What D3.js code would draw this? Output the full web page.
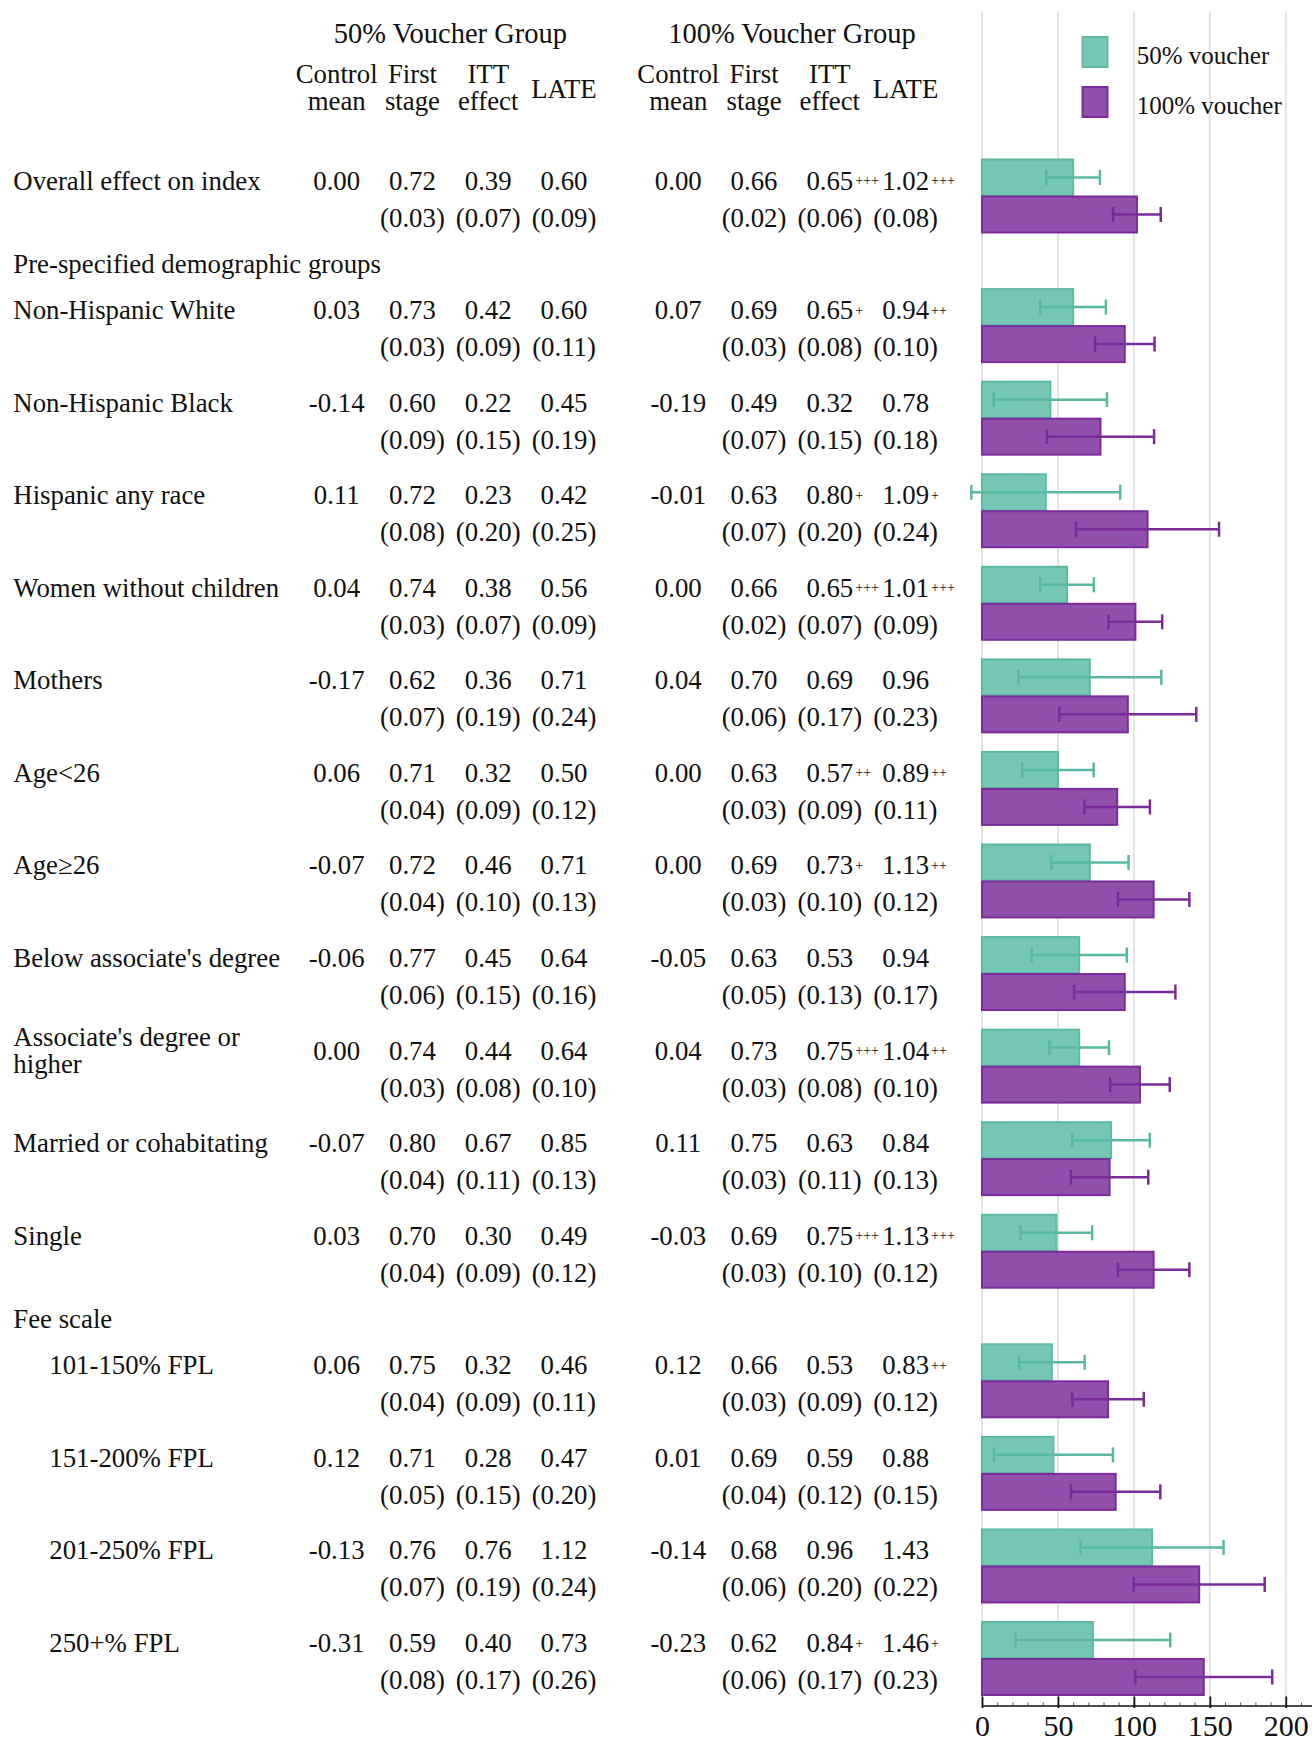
<!DOCTYPE html>
<html>
<head>
<meta charset="utf-8">
<script src="https://cdn.jsdelivr.net/npm/d3@7"></script>
<style>
  html, body { margin: 0; padding: 0; background: #fff; }
  svg { display: block; }
  text { font-family: "Liberation Serif", "Times New Roman", Times, serif; fill: #111; }
</style>
</head>
<body>
<svg id="chart" width="1312" height="1748"></svg>
<script>
// ---- Row labels and sections ----
const rowLabels = [
  "Overall effect on index",
  "Non-Hispanic White", "Non-Hispanic Black", "Hispanic any race",
  "Women without children", "Mothers", "Age<26", "Age\u226526",
  "Below associate's degree", "Associate's degree or higher",
  "Married or cohabitating", "Single",
  "101-150% FPL", "151-200% FPL", "201-250% FPL", "250+% FPL"
];
// section headings placed before the given row index
const sectionTitles = ["Pre-specified demographic groups", "Fee scale"];
const sectionStarts = [1, 12];
const indentedRows = [12, 13, 14, 15];

// ---- 50% voucher group ----
const controlMean50 = [0.00, 0.03, -0.14, 0.11, 0.04, -0.17, 0.06, -0.07, -0.06, 0.00, -0.07, 0.03, 0.06, 0.12, -0.13, -0.31];
const firstStage50  = [0.72, 0.73, 0.60, 0.72, 0.74, 0.62, 0.71, 0.72, 0.77, 0.74, 0.80, 0.70, 0.75, 0.71, 0.76, 0.59];
const firstStageSE50 = [0.03, 0.03, 0.09, 0.08, 0.03, 0.07, 0.04, 0.04, 0.06, 0.03, 0.04, 0.04, 0.04, 0.05, 0.07, 0.08];
const itt50   = [0.39, 0.42, 0.22, 0.23, 0.38, 0.36, 0.32, 0.46, 0.45, 0.44, 0.67, 0.30, 0.32, 0.28, 0.76, 0.40];
const ittSE50 = [0.07, 0.09, 0.15, 0.20, 0.07, 0.19, 0.09, 0.10, 0.15, 0.08, 0.11, 0.09, 0.09, 0.15, 0.19, 0.17];
const late50   = [0.60, 0.60, 0.45, 0.42, 0.56, 0.71, 0.50, 0.71, 0.64, 0.64, 0.85, 0.49, 0.46, 0.47, 1.12, 0.73];
const lateSE50 = [0.09, 0.11, 0.19, 0.25, 0.09, 0.24, 0.12, 0.13, 0.16, 0.10, 0.13, 0.12, 0.11, 0.20, 0.24, 0.26];
const ittSig50  = ["", "", "", "", "", "", "", "", "", "", "", "", "", "", "", ""];
const lateSig50 = ["", "", "", "", "", "", "", "", "", "", "", "", "", "", "", ""];

// ---- 100% voucher group ----
const controlMean100 = [0.00, 0.07, -0.19, -0.01, 0.00, 0.04, 0.00, 0.00, -0.05, 0.04, 0.11, -0.03, 0.12, 0.01, -0.14, -0.23];
const firstStage100  = [0.66, 0.69, 0.49, 0.63, 0.66, 0.70, 0.63, 0.69, 0.63, 0.73, 0.75, 0.69, 0.66, 0.69, 0.68, 0.62];
const firstStageSE100 = [0.02, 0.03, 0.07, 0.07, 0.02, 0.06, 0.03, 0.03, 0.05, 0.03, 0.03, 0.03, 0.03, 0.04, 0.06, 0.06];
const itt100   = [0.65, 0.65, 0.32, 0.80, 0.65, 0.69, 0.57, 0.73, 0.53, 0.75, 0.63, 0.75, 0.53, 0.59, 0.96, 0.84];
const ittSE100 = [0.06, 0.08, 0.15, 0.20, 0.07, 0.17, 0.09, 0.10, 0.13, 0.08, 0.11, 0.10, 0.09, 0.12, 0.20, 0.17];
const late100   = [1.02, 0.94, 0.78, 1.09, 1.01, 0.96, 0.89, 1.13, 0.94, 1.04, 0.84, 1.13, 0.83, 0.88, 1.43, 1.46];
const lateSE100 = [0.08, 0.10, 0.18, 0.24, 0.09, 0.23, 0.11, 0.12, 0.17, 0.10, 0.13, 0.12, 0.12, 0.15, 0.22, 0.23];
const ittSig100  = ["+++", "+", "", "+", "+++", "", "++", "+", "", "+++", "", "+++", "", "", "", "+"];
const lateSig100 = ["+++", "++", "", "+", "+++", "", "++", "++", "", "++", "", "+++", "++", "", "", "+"];

// ---- Column headings, legend and axis ticks ----
const groupTitles = ["50% Voucher Group", "100% Voucher Group"];
const columnHeads = [["Control", "mean"], ["First", "stage"], ["ITT", "effect"], ["LATE"]];
const legendLabels = ["50% voucher", "100% voucher"];
const axisTicks = [0, 50, 100, 150, 200];

// ---- Styling ----
const teal = { fill: "#76c6b5", stroke: "#5dbaa5", err: "#58b8a1" };
const purple = { fill: "#8f4fab", stroke: "#7a2d9a", err: "#7a2b9a" };
const bodySize = 26.8;

const svg = d3.select("#chart");

// vertical layout: each row is one unit, a section heading adds 0.4
const rowUnits = [];
const sectionUnits = [];
{
  let u = 0;
  rowLabels.forEach((_, i) => {
    if (i > 0) {
      const s = sectionStarts.indexOf(i);
      if (s >= 0) { sectionUnits.push(u + 0.9); u += 1.4; }
      else u += 1;
    }
    rowUnits.push(u);
  });
}
const y = d3.scaleLinear().domain([0, d3.max(rowUnits)]).range([196, 1658.5]);

// table column positions
const colX50 = d3.scaleLinear().domain([0, 3]).range([336.7, 564]);
const groupShift = 341.6;

// bar scale (LATE x 100)
const x = d3.scaleLinear().domain([0, 217]).range([982, 1311.6]);
const axisY = 1705.5;
const gridTop = 12;

const fmt = v => v.toFixed(2);
const fmtSE = v => "(" + v.toFixed(2) + ")";

// ---- grid lines ----
svg.append("g").selectAll("line").data(axisTicks).join("line")
  .attr("x1", d => x(d)).attr("x2", d => x(d))
  .attr("y1", gridTop).attr("y2", axisY)
  .attr("stroke", "#e4e4e4").attr("stroke-width", 2);

// ---- group titles and column headings ----
const head = svg.append("g").attr("font-size", bodySize);
groupTitles.forEach((t, g) => {
  const cx = (colX50(0) + colX50(3)) / 2 + g * groupShift;
  head.append("text").attr("x", cx).attr("y", 43.3)
    .attr("text-anchor", "middle").attr("font-size", 28.5).text(t);
  columnHeads.forEach((lines, c) => {
    const cxc = colX50(c) + g * groupShift;
    if (lines.length === 2) {
      head.append("text").attr("x", cxc).attr("y", 82.7).attr("text-anchor", "middle").text(lines[0]);
      head.append("text").attr("x", cxc).attr("y", 110).attr("text-anchor", "middle").text(lines[1]);
    } else {
      head.append("text").attr("x", cxc).attr("y", 97.7).attr("text-anchor", "middle").text(lines[0]);
    }
  });
});

// ---- section headings ----
svg.append("g").attr("font-size", bodySize).selectAll("text").data(sectionTitles).join("text")
  .attr("x", 13.3).attr("y", (d, i) => y(sectionUnits[i]) - 6.5).text(d => d);

// ---- row labels (with wrapping) ----
const labelG = svg.append("g").attr("font-size", bodySize);
rowLabels.forEach((lab, i) => {
  const lx = indentedRows.includes(i) ? 49.3 : 13.3;
  const base = y(rowUnits[i]) - 6.5;
  const t = labelG.append("text").attr("x", lx).attr("y", base).text(lab);
  if (t.node().getComputedTextLength() > 280) {
    const words = lab.split(" ");
    const last = words.pop();
    t.text(null);
    t.append("tspan").attr("x", lx).attr("y", base - 13.5).text(words.join(" "));
    t.append("tspan").attr("x", lx).attr("y", base + 13.5).text(last);
  }
});

// ---- table values ----
const groups = [
  { mean: controlMean50, fs: firstStage50, fsSE: firstStageSE50, itt: itt50, ittSE: ittSE50,
    late: late50, lateSE: lateSE50, ittSig: ittSig50, lateSig: lateSig50 },
  { mean: controlMean100, fs: firstStage100, fsSE: firstStageSE100, itt: itt100, ittSE: ittSE100,
    late: late100, lateSE: lateSE100, ittSig: ittSig100, lateSig: lateSig100 }
];
const valG = svg.append("g").attr("font-size", bodySize).attr("text-anchor", "middle");
groups.forEach((gd, g) => {
  const cx = c => colX50(c) + g * groupShift;
  rowLabels.forEach((_, i) => {
    const base = y(rowUnits[i]) - 6.5;
    const seBase = y(rowUnits[i]) + 30.5;
    valG.append("text").attr("x", cx(0)).attr("y", base).text(fmt(gd.mean[i]));
    valG.append("text").attr("x", cx(1)).attr("y", base).text(fmt(gd.fs[i]));
    valG.append("text").attr("x", cx(2)).attr("y", base).text(fmt(gd.itt[i]));
    valG.append("text").attr("x", cx(3)).attr("y", base).text(fmt(gd.late[i]));
    valG.append("text").attr("x", cx(1)).attr("y", seBase).text(fmtSE(gd.fsSE[i]));
    valG.append("text").attr("x", cx(2)).attr("y", seBase).text(fmtSE(gd.ittSE[i]));
    valG.append("text").attr("x", cx(3)).attr("y", seBase).text(fmtSE(gd.lateSE[i]));
    [[2, gd.ittSig[i]], [3, gd.lateSig[i]]].forEach(([c, s]) => {
      if (!s) return;
      valG.append("text").attr("x", cx(c) + 25.5).attr("y", base - 4.5)
        .attr("text-anchor", "start").attr("font-size", 14).attr("fill", "#333").text(s);
    });
  });
});

// ---- bars with 95% intervals ----
const barH = 36;
const series = [
  { vals: late50, se: late50.map((_, i) => lateSE50[i]), col: teal, off: -barH - 0.5 },
  { vals: late100, se: late100.map((_, i) => lateSE100[i]), col: purple, off: 0.5 }
];
const barG = svg.append("g");
series.forEach(s => {
  const g = barG.append("g");
  g.selectAll("rect").data(s.vals).join("rect")
    .attr("x", x(0))
    .attr("y", (d, i) => y(rowUnits[i]) + s.off)
    .attr("width", d => x(d * 100) - x(0))
    .attr("height", barH)
    .attr("fill", s.col.fill).attr("stroke", s.col.stroke).attr("stroke-width", 2);
});
series.forEach(s => {
  const g = barG.append("g").attr("stroke", s.col.err).attr("stroke-width", 2.5).attr("fill", "none");
  s.vals.forEach((d, i) => {
    const cy = y(rowUnits[i]) + s.off + barH / 2;
    const lo = x((d - 1.96 * s.se[i]) * 100);
    const hi = x((d + 1.96 * s.se[i]) * 100);
    g.append("line").attr("x1", lo).attr("x2", hi).attr("y1", cy).attr("y2", cy);
    g.append("line").attr("x1", lo).attr("x2", lo).attr("y1", cy - 7.5).attr("y2", cy + 7.5);
    g.append("line").attr("x1", hi).attr("x2", hi).attr("y1", cy - 7.5).attr("y2", cy + 7.5);
  });
});

// ---- x axis ----
const minorAxis = d3.axisBottom(x).tickValues(d3.range(0, 211, 10)).tickSizeInner(-3).tickSizeOuter(0).tickFormat("");
svg.append("g").attr("transform", `translate(0,${axisY})`).call(minorAxis)
  .call(g => g.select(".domain").remove())
  .call(g => g.selectAll("line").attr("stroke", "#555").attr("stroke-width", 1));

const majorAxis = d3.axisBottom(x).tickValues(axisTicks).tickSizeInner(-9).tickSizeOuter(0).tickPadding(9);
const ax = svg.append("g").attr("transform", `translate(0,${axisY})`).call(majorAxis);
ax.select(".domain").attr("stroke", "#111").attr("stroke-width", 1.6);
ax.selectAll(".tick line").attr("stroke", "#111").attr("stroke-width", 1.8).attr("y2", -9).attr("y1", 2.5);
ax.selectAll(".tick text")
  .attr("font-family", "'Liberation Serif', 'Times New Roman', serif")
  .attr("font-size", 30).attr("fill", "#111");

// ---- legend ----
const legend = svg.append("g");
[teal, purple].forEach((c, i) => {
  legend.append("rect").attr("x", 1082.5).attr("y", 37 + i * 50).attr("width", 25).attr("height", 30)
    .attr("fill", c.fill).attr("stroke", c.stroke).attr("stroke-width", 2);
  legend.append("text").attr("x", 1136.7).attr("y", 64.3 + i * 50).attr("font-size", 25).text(legendLabels[i]);
});
</script>
</body>
</html>
